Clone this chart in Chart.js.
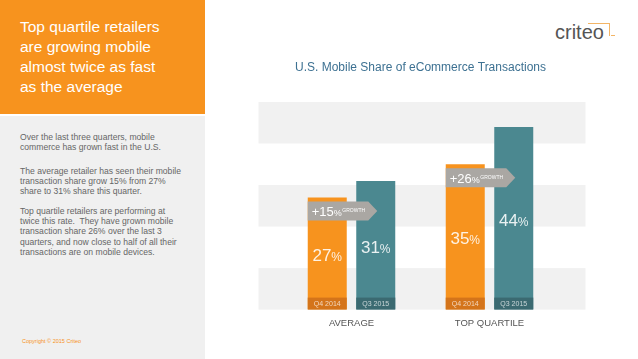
<!DOCTYPE html>
<html>
<head>
<meta charset="utf-8">
<script src="https://cdn.jsdelivr.net/npm/chart.js@4.4.1/dist/chart.umd.min.js"></script>
<style>
  body { margin: 0; width: 638px; height: 359px; overflow: hidden; background: #fff;
         font-family: "Liberation Sans", Arial, sans-serif; position: relative; }
  #head { position: absolute; left: 0; top: 0; width: 205px; height: 114px; background: #f7931e; }
  #head div { position: absolute; left: 20px; top: 17px; color: #fff; font-size: 15.5px; line-height: 20px; }
  #side { position: absolute; left: 0; top: 116px; width: 205px; height: 243px; background: #f0f0f0; }
  #side p { position: absolute; left: 20px; margin: 0; color: #666; font-size: 8.6px; line-height: 10.2px; width: 185px; }
  #copy { position: absolute; left: 22px; top: 222px; font-size: 5.5px; color: #f7931e; }
  #logo { position: absolute; left: 555px; top: 22px; font-size: 20px; line-height: 20px; color: #555; }
  #bracket { position: absolute; left: 588px; top: 23px; width: 21px; height: 12px;
             border-top: 1px solid #f3b566; border-right: 1px solid #f3b566; }
  #dot { position: absolute; left: 611px; top: 35px; width: 4px; height: 1px; background: #f3b566; }
  #c { position: absolute; left: 230px; top: 40px; }
</style>
</head>
<body>
<div id="head"><div>Top quartile retailers<br>are growing mobile<br>almost twice as fast<br>as the average</div></div>
<div id="side">
  <p style="top:16px">Over the last three quarters, mobile<br>commerce has grown fast in the U.S.</p>
  <p style="top:50px">The average retailer has seen their mobile<br>transaction share grow 15% from 27%<br>share to 31% share this quarter.</p>
  <p style="top:90px">Top quartile retailers are performing at<br>twice this rate.&nbsp; They have grown mobile<br>transaction share 26% over the last 3<br>quarters, and now close to half of all their<br>transactions are on mobile devices.</p>
  <div id="copy">Copyright © 2015 Criteo</div>
</div>
<div id="logo">criteo</div>
<div id="bracket"></div>
<div id="dot"></div>
<canvas id="c" width="400" height="300"></canvas>
<script>
const categories = ['AVERAGE', 'TOP QUARTILE'];
const q4_2014 = [27, 35];
const q3_2015 = [31, 44];
const growth = [15, 26];
const yTicks = [0, 10, 20, 30, 40, 50];

const ORANGE = '#f7931e', TEAL = '#4b8890';
const stripColors = ['#d4741a', '#3b6a71'];

const bandPlugin = {
    id: 'bands',
    beforeDatasetsDraw(chart) {
        const {ctx, chartArea: a, scales: {y}} = chart;
        ctx.save();
        ctx.fillStyle = '#f1f1f1';
        for (let k = 0; k < yTicks.length - 1; k += 2) {
            const top = y.getPixelForValue(yTicks[k + 1]), bot = y.getPixelForValue(yTicks[k]);
            ctx.fillRect(a.left - 24, top, a.width + 51, bot - top);
        }
        ctx.restore();
    }
};

// big number + small suffix, centred on cx
function drawPair(ctx, big, small, cx, baseY, bigSize, smallSize, color) {
    ctx.font = bigSize + 'px "Liberation Sans", Arial';
    const w1 = ctx.measureText(big).width;
    ctx.font = smallSize + 'px "Liberation Sans", Arial';
    const w2 = ctx.measureText(small).width;
    let x = cx - (w1 + w2) / 2;
    ctx.fillStyle = color;
    ctx.textAlign = 'left';
    ctx.textBaseline = 'alphabetic';
    ctx.font = bigSize + 'px "Liberation Sans", Arial';
    ctx.fillText(big, x, baseY);
    ctx.font = smallSize + 'px "Liberation Sans", Arial';
    ctx.fillText(small, x + w1, baseY);
}

const labelPlugin = {
    id: 'barLabels',
    afterDatasetsDraw(chart) {
        const ctx = chart.ctx;
        ctx.save();
        chart.data.datasets.forEach((ds, di) => {
            chart.getDatasetMeta(di).data.forEach((bar, i) => {
                const left = bar.x - bar.width / 2;
                ctx.fillStyle = stripColors[di];
                ctx.fillRect(left, bar.base - 12, bar.width, 12);
                ctx.fillStyle = 'rgba(255,255,255,0.7)';
                ctx.font = '7px "Liberation Sans", Arial';
                ctx.textAlign = 'center';
                ctx.textBaseline = 'middle';
                ctx.fillText(ds.label, bar.x, bar.base - 5.5);
                drawPair(ctx, String(ds.data[i]), '%', bar.x, (bar.y + bar.base) / 2 + 7.5, 17, 12, 'rgba(255,255,255,0.88)');
            });
        });
        // growth arrows
        const m0 = chart.getDatasetMeta(0).data, m1 = chart.getDatasetMeta(1).data;
        m0.forEach((o, i) => {
            const t = m1[i];
            const x0 = o.x - o.width / 2;
            const tip = t.x - t.width / 2 + 21;
            const y0 = o.y + 4, h = 19;
            ctx.fillStyle = '#aaa7a3';
            ctx.beginPath();
            ctx.moveTo(x0, y0);
            ctx.lineTo(tip - 9, y0);
            ctx.lineTo(tip, y0 + h / 2);
            ctx.lineTo(tip - 9, y0 + h);
            ctx.lineTo(x0, y0 + h);
            ctx.closePath();
            ctx.fill();
            ctx.fillStyle = '#fff';
            ctx.textAlign = 'left';
            ctx.textBaseline = 'alphabetic';
            ctx.font = '13px "Liberation Sans", Arial';
            const s = '+' + growth[i];
            ctx.fillText(s, x0 + 4, y0 + 14.5);
            let x = x0 + 4 + ctx.measureText(s).width;
            ctx.font = '9px "Liberation Sans", Arial';
            ctx.fillText('%', x, y0 + 14.5);
            x += ctx.measureText('%').width;
            ctx.font = '5px "Liberation Sans", Arial';
            ctx.fillText('GROWTH', x + 0.5, y0 + 11);
        });
        ctx.restore();
    }
};

new Chart(document.getElementById('c'), {
    type: 'bar',
    data: {
        labels: categories,
        datasets: [
            { label: 'Q4 2014', data: q4_2014, backgroundColor: ORANGE },
            { label: 'Q3 2015', data: q3_2015, backgroundColor: TEAL }
        ]
    },
    options: {
        responsive: false,
        animation: false,
        categoryPercentage: 0.703,
        barPercentage: 0.804,
        layout: { padding: { left: 52.5, right: 71.5, top: 10, bottom: 3 } },
        plugins: {
            legend: { display: false },
            tooltip: { enabled: false },
            title: {
                display: true,
                text: 'U.S. Mobile Share of eCommerce Transactions',
                color: '#3d7192',
                font: { size: 12, weight: 'normal', family: '"Liberation Sans", Arial' },
                padding: { top: 10.8, bottom: 26.8 }
            }
        },
        scales: {
            x: {
                grid: { display: false, drawTicks: false },
                border: { display: false },
                ticks: { color: '#555', padding: 8, font: { size: 9.5, family: '"Liberation Sans", Arial' } }
            },
            y: { display: false, min: 0, max: 50 }
        }
    },
    plugins: [bandPlugin, labelPlugin]
});
</script>
</body>
</html>
